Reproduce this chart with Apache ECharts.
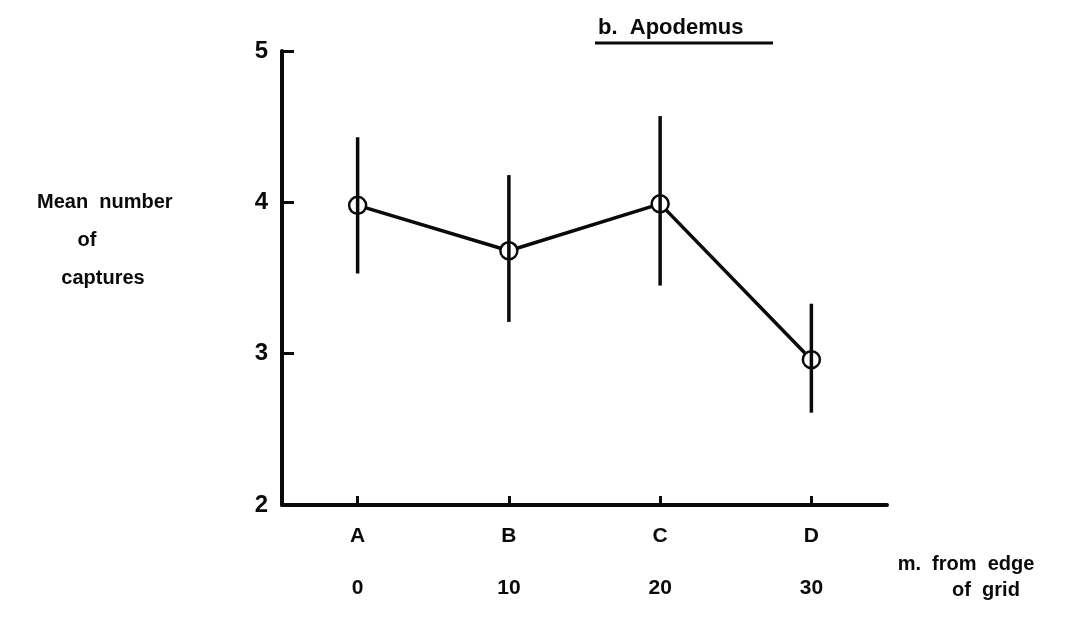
<!DOCTYPE html>
<html>
<head>
<meta charset="utf-8">
<script src="https://cdn.jsdelivr.net/npm/echarts@6/dist/echarts.min.js"></script>
<style>
  html, body { margin: 0; padding: 0; background: #fff; }
  #chart { width: 1072px; height: 620px; }
</style>
</head>
<body>
<div id="chart"></div>
<script>
// distance from edge of grid (m) and the grid letters
const distances = [0, 10, 20, 30];
const gridLetters = ['A', 'B', 'C', 'D'];
// mean captures and the ends of the vertical bars
const meanCaptures = [3.98, 3.68, 3.99, 2.96];
const barHigh = [4.43, 4.18, 4.57, 3.33];
const barLow = [3.53, 3.21, 3.45, 2.61];
const yTicks = [2, 3, 4, 5];

const FONT = '"Liberation Sans", Arial, sans-serif';
const INK = '#0a0a0a';

const chart = echarts.init(document.getElementById('chart'), null, { renderer: 'canvas' });

const points = distances.map((d, i) => [d, meanCaptures[i]]);
const bars = distances.map((d, i) => [d, barLow[i], barHigh[i]]);

const option = {
  backgroundColor: '#fff',
  animation: false,
  grid: { left: 282, right: 185, top: 51, bottom: 115 },
  xAxis: {
    type: 'value',
    min: -5,
    max: 35,
    splitLine: { show: false },
    axisLine: { show: true, onZero: false, lineStyle: { color: INK, width: 4 } },
    axisTick: {
      show: true,
      inside: true,
      length: 9,
      customValues: distances,
      lineStyle: { color: INK, width: 3 }
    },
    axisLabel: {
      show: true,
      margin: 5,
      customValues: distances,
      formatter: v => {
        const i = distances.indexOf(v);
        return i < 0 ? '' : '{l|' + gridLetters[i] + '}\n{n|' + v + '}';
      },
      rich: {
        l: { fontFamily: FONT, fontWeight: 'bold', fontSize: 21, color: INK, lineHeight: 52 },
        n: { fontFamily: FONT, fontWeight: 'bold', fontSize: 21, color: INK, lineHeight: 52 }
      }
    }
  },
  yAxis: {
    type: 'value',
    min: 2,
    max: 5,
    interval: 1,
    splitLine: { show: false },
    axisLine: { show: true, onZero: false, lineStyle: { color: INK, width: 4 } },
    axisTick: {
      show: true,
      inside: true,
      length: 12,
      customValues: yTicks.slice(1),
      lineStyle: { color: INK, width: 3 }
    },
    axisLabel: {
      margin: 14,
      fontFamily: FONT,
      fontWeight: 'bold',
      fontSize: 24,
      color: INK
    }
  },
  graphic: [
    {
      type: 'text',
      left: 598, top: 17,
      style: { text: 'b.  Apodemus', font: 'bold 22px ' + FONT, fill: INK }
    },
    {
      type: 'line',
      shape: { x1: 595, y1: 43, x2: 773, y2: 43 },
      style: { stroke: INK, lineWidth: 3 }
    },
    {
      type: 'text',
      x: 37, y: 202,
      style: { text: 'Mean  number', font: 'bold 20px ' + FONT, fill: INK, align: 'left', verticalAlign: 'middle' }
    },
    {
      type: 'text',
      x: 87, y: 240,
      style: { text: 'of', font: 'bold 20px ' + FONT, fill: INK, align: 'center', verticalAlign: 'middle' }
    },
    {
      type: 'text',
      x: 103, y: 278,
      style: { text: 'captures', font: 'bold 20px ' + FONT, fill: INK, align: 'center', verticalAlign: 'middle' }
    },
    {
      type: 'text',
      x: 966, y: 564,
      style: { text: 'm.  from  edge', font: 'bold 20px ' + FONT, fill: INK, align: 'center', verticalAlign: 'middle' }
    },
    {
      type: 'text',
      x: 986, y: 590,
      style: { text: 'of  grid', font: 'bold 20px ' + FONT, fill: INK, align: 'center', verticalAlign: 'middle' }
    }
  ],
  series: [
    {
      type: 'line',
      data: points,
      z: 2,
      symbol: 'none',
      lineStyle: { color: INK, width: 3.5 }
    },
    {
      type: 'scatter',
      data: points,
      z: 3,
      symbol: 'circle',
      symbolSize: 17,
      itemStyle: { color: '#fff', borderColor: INK, borderWidth: 2.5, opacity: 1 },
      emphasis: { disabled: true }
    },
    {
      type: 'custom',
      data: bars,
      z: 4,
      renderItem: (params, api) => {
        const lo = api.coord([api.value(0), api.value(1)]);
        const hi = api.coord([api.value(0), api.value(2)]);
        return {
          type: 'line',
          shape: { x1: lo[0], y1: lo[1], x2: hi[0], y2: hi[1] },
          style: { stroke: INK, lineWidth: 3.5 }
        };
      }
    }
  ]
};

chart.setOption(option);
</script>
</body>
</html>
